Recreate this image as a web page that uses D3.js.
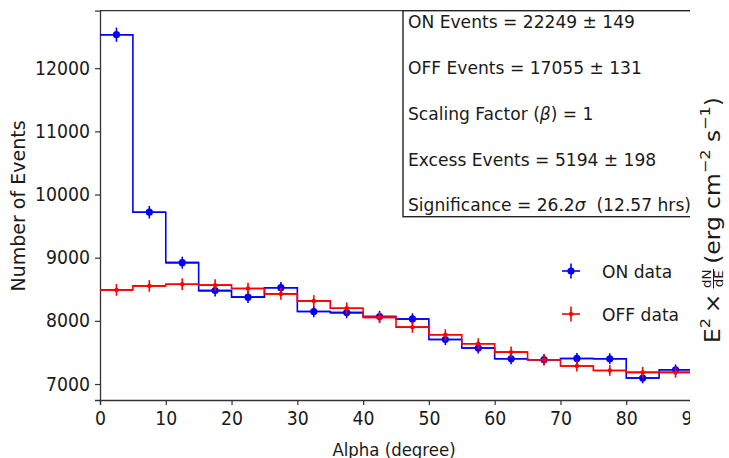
<!DOCTYPE html>
<html><head><meta charset="utf-8">
<script src="https://cdn.jsdelivr.net/npm/d3@7"></script>
<style>body{margin:0;background:#fff}svg{display:block}text{font-family:"DejaVu Sans",sans-serif;fill:#1a1a1a}</style>
</head><body><svg id="c" width="729" height="458"></svg>
<script>
const binEdges = [0,5,10,15,20,25,30,35,40,45,50,55,60,65,70,75,80,85,90];
const binCenters = [2.5,7.5,12.5,17.5,22.5,27.5,32.5,37.5,42.5,47.5,52.5,57.5,62.5,67.5,72.5,77.5,82.5,87.5];
const onCounts  = [12530,9720,8921,8479,8375,8525,8147,8131,8068,8030,7705,7570,7400,7385,7405,7400,7095,7225];
const onErrors  = [112,99,94,92,92,92,90,90,90,90,88,87,86,86,86,86,84,85];
const offCounts = [8490,8553,8580,8565,8512,8427,8316,8200,8055,7900,7779,7637,7505,7384,7285,7215,7185,7185];
const offErrors = [92,92,93,93,92,92,91,91,90,89,88,87,87,86,85,85,85,85];
const xTicks = [0,10,20,30,40,50,60,70,80,90];
const yTicks = [7000,8000,9000,10000,11000,12000];
const infoLines = ["ON Events = 22249 \u00b1 149","OFF Events = 17055 \u00b1 131","Scaling Factor (\u03b2) = 1","Excess Events = 5194 \u00b1 198","Significance = 26.2\u03c3  (12.57 hrs)"];
const legendLabels = ["ON data","OFF data"];

const svg = d3.select("#c");
const x = d3.scaleLinear().domain([0,90]).range([100,692]);
const y = d3.scaleLinear().domain([6747,12910]).range([400,10.7]);

function squeeze(sel,k){
  sel.each(function(){
    const t=d3.select(this);
    const tx=+(t.attr("x")||0), ty=+(t.attr("y")||0);
    t.attr("x",0).attr("y",0).attr("transform",`translate(${tx},${ty}) scale(${k},1)`);
  });
}

svg.append("defs").append("clipPath").attr("id","fig").append("rect").attr("x",0).attr("y",0).attr("width",690).attr("height",458);
const g = svg.append("g").attr("clip-path","url(#fig)");

// axes
const ax = g.append("g").attr("transform","translate(0,400)").call(d3.axisBottom(x).tickValues(xTicks).tickSize(5).tickPadding(6));
const ay = g.append("g").attr("transform","translate(100,0)").call(d3.axisLeft(y).tickValues(yTicks).tickFormat(d3.format("d")).tickSize(5).tickPadding(5));
[ax,ay].forEach(a=>{a.select(".domain").attr("stroke","#333").attr("stroke-width",1.3);
  a.selectAll(".tick line").attr("stroke","#333").attr("stroke-width",1.2);
  a.selectAll(".tick text").attr("font-size","19px").attr("fill","#1a1a1a").attr("font-family","DejaVu Sans");});
ax.selectAll(".tick text").attr("dy","0.74em");
squeeze(ax.selectAll(".tick text"),0.91);
squeeze(ay.selectAll(".tick text"),0.91);
// top spine
g.append("line").attr("x1",100).attr("x2",692).attr("y1",10.7).attr("y2",10.7).attr("stroke","#333").attr("stroke-width",1.3);

function stepData(vals){ return binEdges.map((e,i)=>[e, vals[Math.min(i,vals.length-1)]]); }
const line = d3.line().x(d=>x(d[0])).y(d=>y(d[1])).curve(d3.curveStepAfter);

function series(vals, errs, color, r){
  g.append("path").datum(stepData(vals)).attr("d",line).attr("fill","none").attr("stroke",color).attr("stroke-width",1.6);
  const s = g.append("g");
  binCenters.forEach((c,i)=>{
    s.append("line").attr("x1",x(c)).attr("x2",x(c)).attr("y1",y(vals[i]-errs[i])).attr("y2",y(vals[i]+errs[i])).attr("stroke",color).attr("stroke-width",1.6);
    s.append("line").attr("x1",x(c-2.5)).attr("x2",x(c+2.5)).attr("y1",y(vals[i])).attr("y2",y(vals[i])).attr("stroke",color).attr("stroke-width",1.6);
    s.append("circle").attr("cx",x(c)).attr("cy",y(vals[i])).attr("r",r).attr("fill",color);
  });
}
series(onCounts,onErrors,"#0000ff",3.6);
series(offCounts,offErrors,"#ff0000",2.2);

// info box
g.append("rect").attr("x",403).attr("y",10.7).attr("width",320).attr("height",206).attr("fill","#fff").attr("stroke","#222").attr("stroke-width",1.4);
const baselines = [28,74,120,166,211];
infoLines.forEach((t,i)=>{
  const tx = g.append("text").attr("x",408).attr("y",baselines[i]).attr("font-size","18.3px").style("white-space","pre");
  if(t.indexOf("\u03b2")>=0||t.indexOf("\u03c3")>=0){
    const sym = t.indexOf("\u03b2")>=0?"\u03b2":"\u03c3";
    const parts = t.split(sym);
    tx.append("tspan").text(parts[0]);
    tx.append("tspan").attr("font-style","italic").text(sym);
    tx.append("tspan").text(parts[1]);
  } else tx.text(t);
  squeeze(tx,0.935);
});

// legend
const legColors = ["#0000ff","#ff0000"], legR=[3.6,2.2], legY=[271,314];
legendLabels.forEach((l,i)=>{
  const cx=571, cy=legY[i];
  g.append("line").attr("x1",cx-9).attr("x2",cx+9).attr("y1",cy).attr("y2",cy).attr("stroke",legColors[i]).attr("stroke-width",1.6);
  g.append("line").attr("x1",cx).attr("x2",cx).attr("y1",cy-7.5).attr("y2",cy+7.5).attr("stroke",legColors[i]).attr("stroke-width",1.6);
  g.append("circle").attr("cx",cx).attr("cy",cy).attr("r",legR[i]).attr("fill",legColors[i]);
  const lt = g.append("text").attr("x",602).attr("y",cy+6.5).attr("font-size","18.3px").text(l);
  squeeze(lt,0.935);
});

// axis labels
const xl = g.append("text").attr("x",394).attr("y",456).attr("text-anchor","middle").attr("font-size","18px").text("Alpha (degree)");
squeeze(xl,0.92);
g.append("text").attr("transform","translate(25,206) rotate(-90)").attr("text-anchor","middle").attr("font-size","19px").text("Number of Events");

// right label (rotated), pieces placed sequentially
const rlo = svg.append("g").attr("transform","translate(712,220) rotate(-90)");
const rl = rlo.append("g");
const pieces = [
  {t:"E",fs:21,dy:7.5},{t:"2",fs:14.5,dy:-2},{t:"\u2009\u00d7\u2009",fs:21,dy:7.5},
  {frac:["dN","dE"],fs:12},
  {t:"\u2009(erg cm",fs:21,dy:7.5},{t:"\u22122",fs:14.5,dy:-2},{t:" s",fs:21,dy:7.5},{t:"\u22121",fs:14.5,dy:-2},{t:")",fs:21,dy:7.5}
];
let cur=0; const els=[];
pieces.forEach(p=>{
  if(p.frac){
    const a = rl.append("text").attr("font-size",p.fs+"px").attr("y",-1.5).attr("text-anchor","middle").text(p.frac[0]);
    const b = rl.append("text").attr("font-size",p.fs+"px").attr("y",10.5).attr("text-anchor","middle").text(p.frac[1]);
    const w = Math.max(a.node().getComputedTextLength(), b.node().getComputedTextLength())+2;
    const ln = rl.append("line").attr("y1",1.5).attr("y2",1.5).attr("stroke","#1a1a1a").attr("stroke-width",1);
    els.push({els:[a,b],ln,x:cur,w}); cur+=w;
  } else {
    const e = rl.append("text").attr("font-size",p.fs+"px").attr("y",p.dy).style("white-space","pre").text(p.t);
    const w = e.node().getComputedTextLength();
    els.push({el:e,x:cur,w}); cur+=w;
  }
});
const off = -cur/2;
els.forEach(o=>{
  if(o.el) o.el.attr("x",o.x+off);
  else { o.els.forEach(e=>e.attr("x",o.x+off+o.w/2)); o.ln.attr("x1",o.x+off+0.5).attr("x2",o.x+off+o.w-0.5); }
});
rl.attr("transform",`scale(${246/cur},1)`);
</script></body></html>
